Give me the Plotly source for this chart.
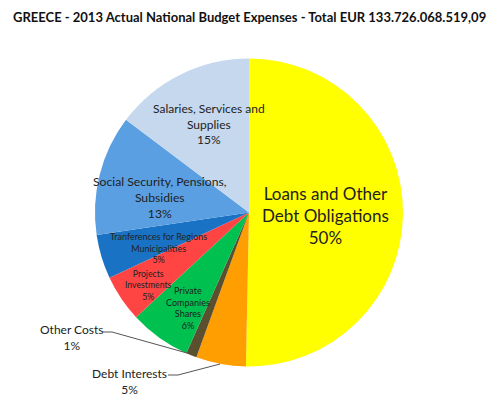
import plotly.graph_objects as go

# Data (EUR millions)
categories = [
    "Loans and Other Debt Obligations",
    "Debt Interests",
    "Other Costs",
    "Private Companies Shares",
    "Projects Investments",
    "Tranferences for Regions Municipalities",
    "Social Security, Pensions, Subsidies",
    "Salaries, Services and Supplies",
]
values = [67300, 7000, 1500, 8600, 6600, 6200, 16850, 19700]
colors = ["#FFFF00", "#FF9E00", "#5A5030", "#00C050", "#FF4444",
          "#1A72C4", "#5A9FE2", "#C5D8EE"]

OFF = 8  # browser default body margin
W, H = 500 - OFF, 399 - OFF
def px(x): return (x - OFF) / W
def py(y): return 1 - (y - OFF) / H

fig = go.Figure(go.Pie(
    labels=categories, values=values, sort=False, direction="clockwise",
    rotation=0, marker=dict(colors=colors, line=dict(width=0)),
    textinfo="none", hoverinfo="label+percent", showlegend=False,
    domain=dict(x=[px(95), px(403)], y=[py(367), py(58)]),
))

total = sum(values)
pct = [round(v / total * 100) for v in values]

font = "Lato, 'Open Sans', sans-serif"
# (label text lines, x, y, font size)
label_specs = [
    (["Loans and Other", "Debt Obligations"], 325, 215, 17),
    (["Debt Interests"], 129, 381, 12),
    (["Other Costs"], 72, 337, 12),
    (["Private", "Companies", "Shares"], 188, 308, 9),
    (["Projects", "Investments"], 148, 285, 8.7),
    (["Tranferences for Regions", "Municipalities"], 158, 248, 9),
    (["Social Security, Pensions,", "Subsidies"], 160, 197, 12.2),
    (["Salaries, Services and", "Supplies"], 209, 124, 12),
]
annotations = []
for (lines, x, y, size), p in zip(label_specs, pct):
    text = "<br>".join(lines + [f"{p}%"])
    annotations.append(dict(
        text=text, x=px(x), y=py(y), xref="paper", yref="paper",
        showarrow=False, xanchor="center", yanchor="middle",
        font=dict(family=font, size=size, color="#222222"), align="center",
    ))

annotations.append(dict(
    text="<b>GREECE - 2013 Actual National Budget Expenses - Total EUR 133.726.068.519,09</b>",
    x=px(249), y=py(17), xref="paper", yref="paper", showarrow=False,
    xanchor="center", yanchor="middle",
    font=dict(family=font, size=13, color="#111111"),
))

shapes = [
    dict(type="path", path=f"M {px(103)} {py(332)} L {px(112)} {py(332)} L {px(187)} {py(353)}",
         xref="paper", yref="paper", line=dict(color="#555555", width=1)),
    dict(type="path", path=f"M {px(168)} {py(375)} L {px(178)} {py(375)} L {px(220)} {py(364)}",
         xref="paper", yref="paper", line=dict(color="#555555", width=1)),
]

fig.update_layout(
    width=W, height=H, margin=dict(l=0, r=0, t=0, b=0),
    paper_bgcolor="white", plot_bgcolor="white",
    annotations=annotations, shapes=shapes,
)
fig.write_html("out.html")
